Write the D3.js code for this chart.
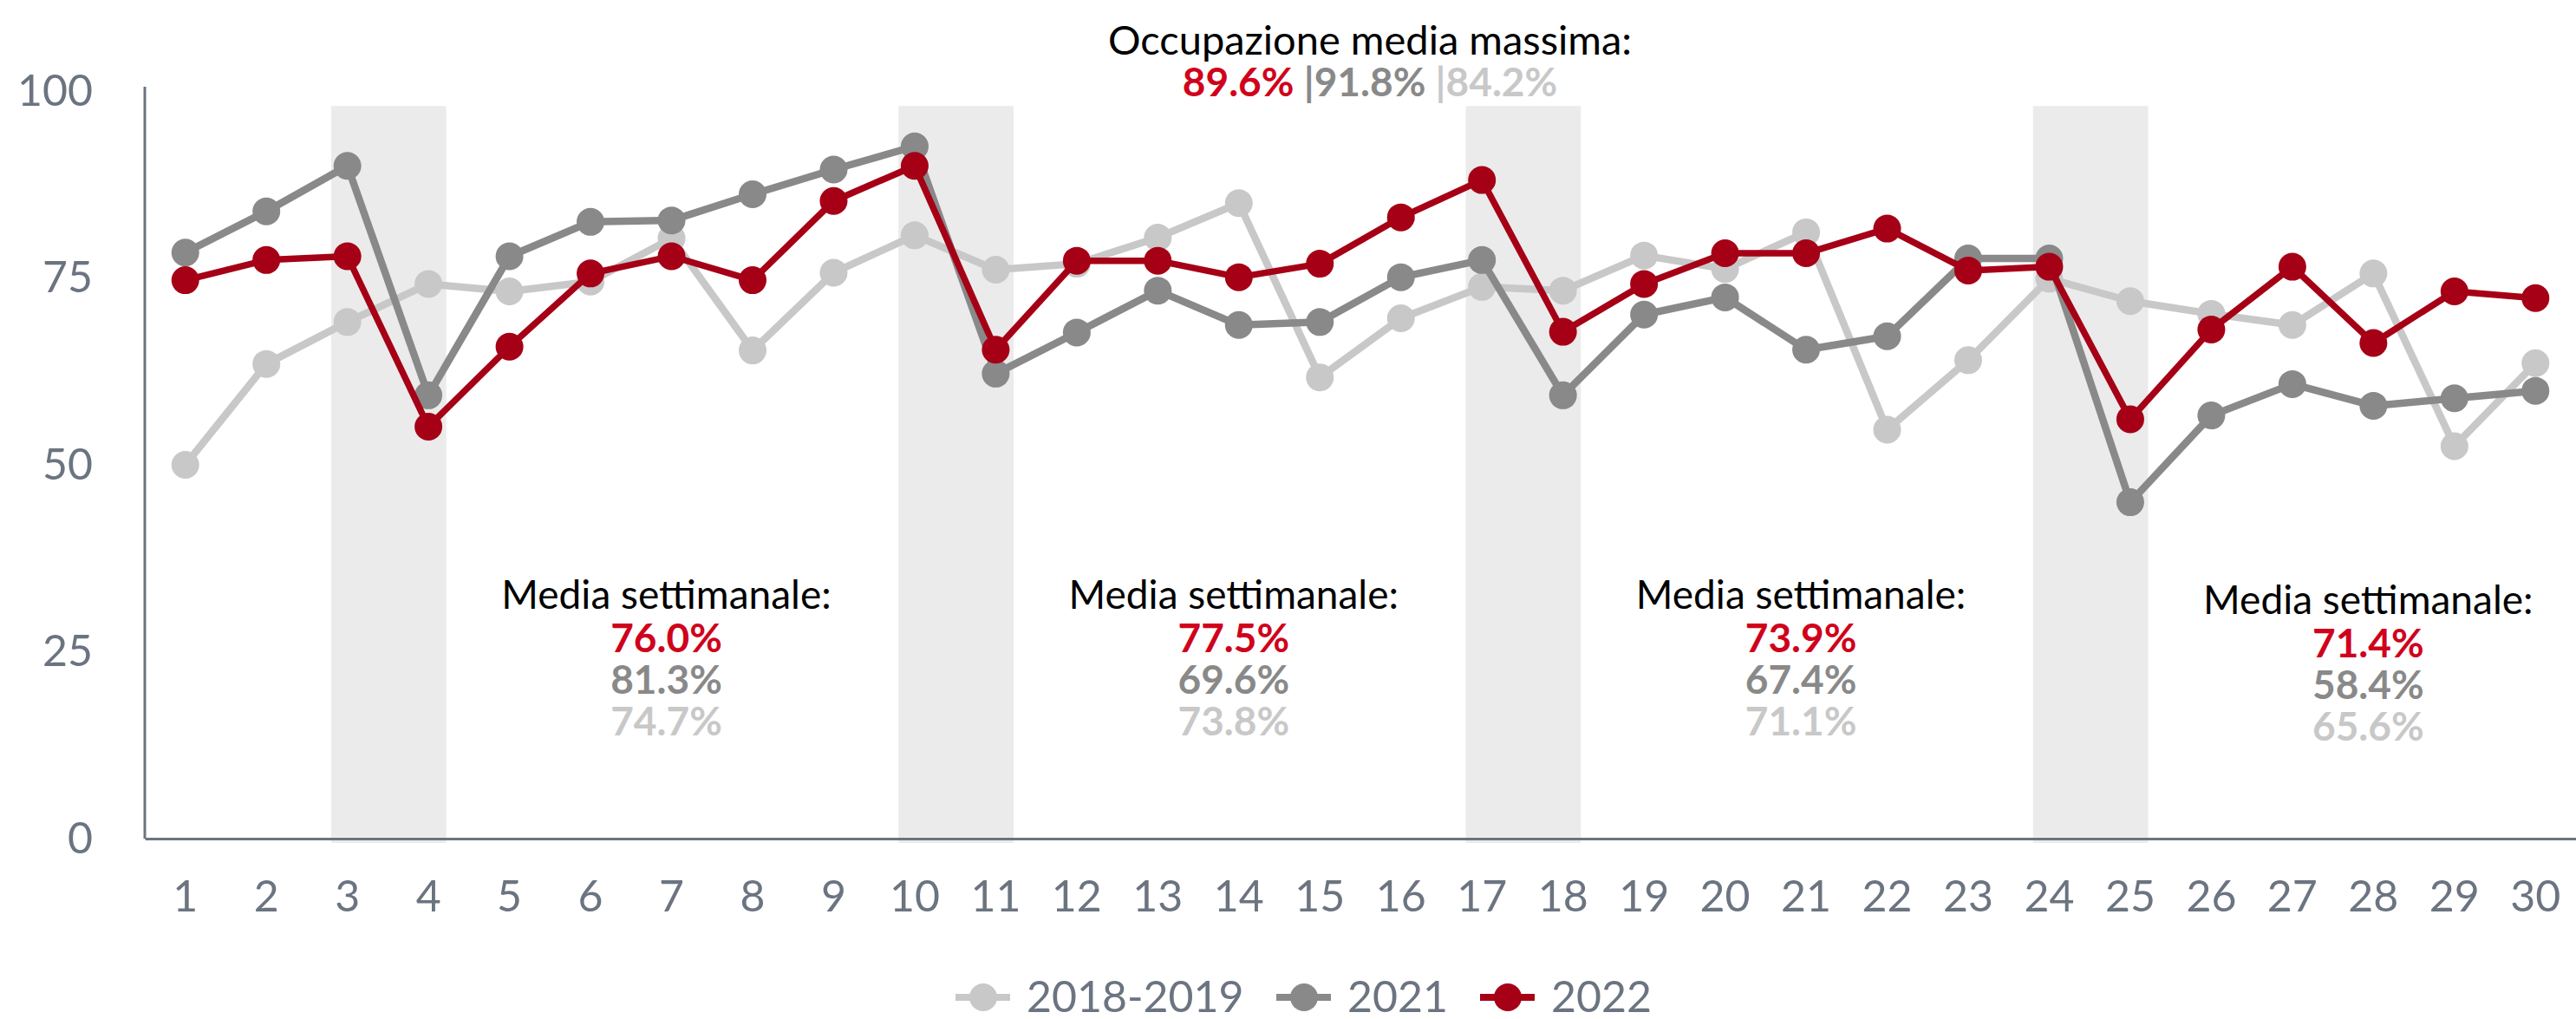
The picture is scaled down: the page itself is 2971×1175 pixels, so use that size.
<!DOCTYPE html>
<html>
<head>
<meta charset="utf-8">
<script src="https://cdn.jsdelivr.net/npm/d3@7"></script>
<style>
    body { margin: 0; background: #ffffff; }
    svg { display: block; font-family: Lato, "Open Sans", sans-serif; }
</style>
</head>
<body>
<div id="chart"></div>
<script>
//
// Occupazione giornaliera - line chart with weekend bands
//

var weeks = d3.range(1, 31);
var yTicks = [0, 25, 50, 75, 100];

var seriesNames = ["2018-2019", "2021", "2022"];

var values2019 = [50.0, 63.5, 69.1, 74.2, 73.2, 74.5, 80.3, 65.3, 75.7, 80.7,
                  76.1, 76.9, 80.4, 85.0, 61.7, 69.6, 73.8, 73.3, 78.0, 76.2,
                  81.1, 54.7, 64.0, 74.9, 71.9, 70.2, 68.7, 75.6, 52.5, 63.6];
var values2021 = [78.4, 83.9, 90.0, 59.3, 77.9, 82.5, 82.7, 86.2, 89.5, 92.6,
                  62.2, 67.7, 73.3, 68.7, 69.1, 75.1, 77.4, 59.3, 70.1, 72.4,
                  65.4, 67.2, 77.6, 77.6, 45.0, 56.6, 60.8, 57.9, 58.9, 59.9];
var values2022 = [74.7, 77.4, 77.9, 55.1, 65.8, 75.6, 77.9, 74.7, 85.3, 90.0,
                  65.4, 77.3, 77.3, 75.1, 76.9, 83.1, 88.1, 67.8, 74.2, 78.3,
                  78.3, 81.6, 76.0, 76.5, 56.1, 68.1, 76.5, 66.3, 73.2, 72.3];

// weekend pairs shaded in grey
var weekends = [[3, 4], [10, 11], [17, 18], [24, 25]];

// max average occupation (2022, 2021, 2018-2019)
var maxLabels = ["89.6%", "91.8%", "84.2%"];

// weekly averages, one block per week: [2022, 2021, 2018-2019]
var weeklyCenter = [7, 14, 21, 28];
var weeklyLabels = [
    ["76.0%", "81.3%", "74.7%"],
    ["77.5%", "69.6%", "73.8%"],
    ["73.9%", "67.4%", "71.1%"],
    ["71.4%", "58.4%", "65.6%"]
];

function drawChart(divName, width, height) {

    var marginLeft = 167;
    var axisY = 967;
    var topY = 105;

    var lineColors = ["#c8c8c8", "#898989", "#a50016"];
    var textColors = ["#c8c8c8", "#898989", "#d0021b"];
    var axisColor = "#6b7480";

    var svg = d3.select("#" + divName)
        .append("svg")
        .attr("width", width)
        .attr("height", height);

    var x = d3.scaleBand().domain(weeks).range([marginLeft, width]).padding(0);
    var y = d3.scaleLinear().domain([0, 100]).range([axisY, topY]);

    // continuous version of the week axis (for the bands and labels)
    var half = x.bandwidth() / 2;
    var xw = d3.scaleLinear().domain([1, 30]).range([x(1) + half, x(30) + half]);

    // weekend bands
    svg.append("g")
        .selectAll("rect")
        .data(weekends)
        .enter()
        .append("rect")
        .attr("x", function (d) { return xw(d[0] - 0.2); })
        .attr("width", function (d) { return xw(d[1] + 0.22) - xw(d[0] - 0.2); })
        .attr("y", y(98))
        .attr("height", y(0) - y(98) + 5)
        .attr("fill", "#ebebeb");

    // y-axis
    var yAxis = d3.axisLeft(y).tickValues(yTicks).tickSize(0).tickPadding(60);
    var gy = svg.append("g")
        .attr("transform", "translate(" + marginLeft + ",0)")
        .call(yAxis);
    gy.select(".domain").remove();
    gy.selectAll("text")
        .style("font-size", "50px")
        .style("font-family", "Lato")
        .attr("fill", axisColor);
    svg.append("line")
        .attr("x1", marginLeft).attr("x2", marginLeft)
        .attr("y1", y(100) - 5).attr("y2", y(0))
        .attr("stroke", axisColor)
        .attr("stroke-width", 3);

    // x-axis
    var xAxis = d3.axisBottom(x).tickSize(0).tickPadding(48);
    var gx = svg.append("g")
        .attr("transform", "translate(0," + axisY + ")")
        .call(xAxis);
    gx.select(".domain")
        .attr("stroke", axisColor)
        .attr("stroke-width", 3);
    gx.selectAll("text")
        .style("font-size", "50px")
        .style("font-family", "Lato")
        .attr("fill", axisColor);

    // lines and points
    var allSeries = [values2019, values2021, values2022];
    var line = d3.line()
        .x(function (d, i) { return x(weeks[i]) + half; })
        .y(function (d) { return y(d); });

    allSeries.forEach(function (vals, s) {
        var g = svg.append("g").attr("class", "series" + s);
        g.append("path")
            .datum(vals)
            .attr("d", line)
            .attr("fill", "none")
            .attr("stroke", lineColors[s])
            .attr("stroke-width", s == 2 ? 7.5 : 8.5)
            .attr("stroke-linejoin", "round");
        g.selectAll("circle")
            .data(vals)
            .enter()
            .append("circle")
            .attr("cx", function (d, i) { return x(weeks[i]) + half; })
            .attr("cy", function (d) { return y(d); })
            .attr("r", 16)
            .attr("fill", lineColors[s]);
    });

    // title: max average occupation
    svg.append("text")
        .attr("x", 1580)
        .attr("y", 63)
        .attr("text-anchor", "middle")
        .style("font-size", "47px")
        .attr("fill", "#000000")
        .text("Occupazione media massima:");

    var maxText = svg.append("text")
        .attr("x", 1580)
        .attr("y", 111)
        .attr("text-anchor", "middle")
        .style("font-size", "46px")
        .style("font-weight", "700");
    maxText.append("tspan").attr("fill", textColors[2]).text(maxLabels[0] + " ");
    maxText.append("tspan").attr("fill", textColors[1]).text("|" + maxLabels[1] + " ");
    maxText.append("tspan").attr("fill", textColors[0]).text("|" + maxLabels[2]);

    // weekly averages
    weeklyLabels.forEach(function (labels, k) {
        var cx = xw(weeklyCenter[k]) - 6;
        var shift = (k == 3) ? 6 : 0;
        svg.append("text")
            .attr("x", cx)
            .attr("y", 702 + shift)
            .attr("text-anchor", "middle")
            .style("font-size", "46px")
            .attr("fill", "#000000")
            .text("Media settimanale:");
        labels.forEach(function (lbl, j) {
            svg.append("text")
                .attr("x", cx)
                .attr("y", 752 + shift + j * 48)
                .attr("text-anchor", "middle")
                .style("font-size", "46px")
                .style("font-weight", "700")
                .attr("fill", textColors[2 - j])
                .text(lbl);
        });
    });

    // legend
    var legendX = [1102, 1472, 1707];
    var legendY = 1150;
    var legend = svg.selectAll(".legend")
        .data(seriesNames)
        .enter().append("g")
        .attr("class", "legend")
        .attr("transform", function (d, idx) { return "translate(" + legendX[idx] + "," + legendY + ")"; });

    legend.append("line")
        .attr("x1", 0).attr("x2", 63)
        .attr("y1", 0).attr("y2", 0)
        .attr("stroke", function (d, idx) { return lineColors[idx]; })
        .attr("stroke-width", 8);
    legend.append("circle")
        .attr("cx", 32).attr("cy", 0).attr("r", 16)
        .attr("fill", function (d, idx) { return lineColors[idx]; });
    legend.append("text")
        .attr("x", 82)
        .attr("y", 17)
        .style("font-size", "50px")
        .attr("fill", axisColor)
        .text(function (d) { return d; });

    return svg;
}

drawChart("chart", 2971, 1175);
</script>
</body>
</html>
